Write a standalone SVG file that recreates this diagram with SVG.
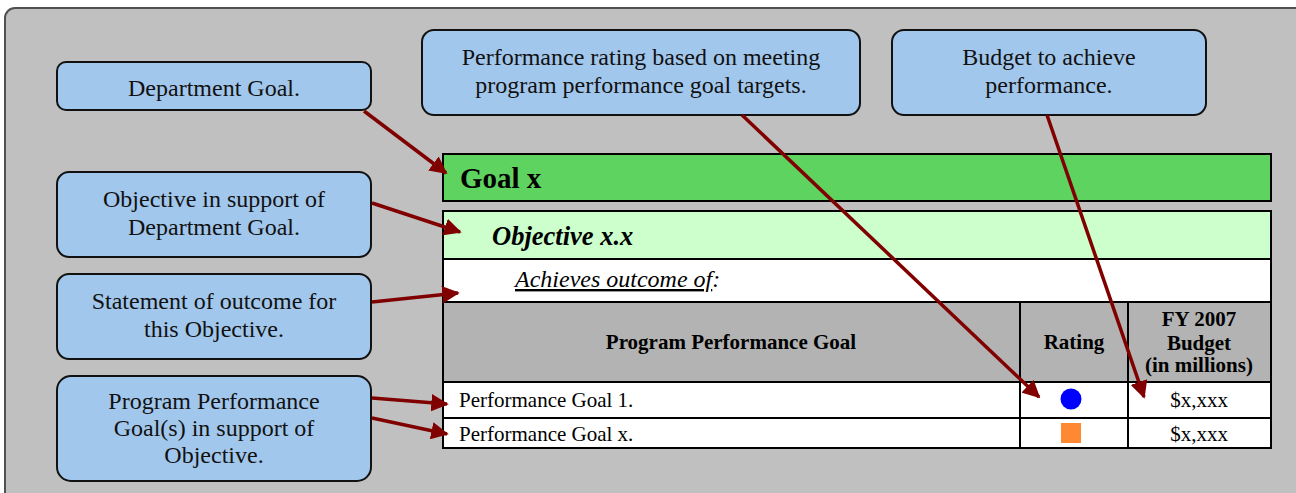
<svg xmlns="http://www.w3.org/2000/svg" width="1296" height="493" viewBox="0 0 1296 493">
<defs>
<marker id="ah" viewBox="0 0 10 10" refX="9" refY="5" markerWidth="5" markerHeight="5" markerUnits="strokeWidth" orient="auto">
<path d="M0,0 L10,5 L0,10 Z" fill="#800000"/>
</marker>
<style>
.call{fill:#a2c7ec;stroke:#111;stroke-width:2}
.ct{font-family:"Liberation Serif",serif;font-size:24px;fill:#111;text-anchor:middle}
.cell{stroke:#000;stroke-width:2}
.hd{font-family:"Liberation Serif",serif;font-size:21px;font-weight:bold;fill:#000;text-anchor:middle}
.rt{font-family:"Liberation Serif",serif;font-size:21px;fill:#000}
.arr{stroke:#800000;stroke-width:3.5;fill:none;marker-end:url(#ah)}
</style>
</defs>
<rect x="5" y="8" width="1320" height="510" rx="10" fill="#c0c0c0" stroke="#505050" stroke-width="2"/>

<g id="table">
<rect class="cell" x="443" y="154" width="828" height="47" fill="#5fd35f"/>
<text x="460" y="188" font-family="Liberation Serif, serif" font-size="29" font-weight="bold">Goal x</text>
<rect class="cell" x="443" y="211" width="828" height="48" fill="#ccffcc"/>
<text x="492" y="245" font-family="Liberation Serif, serif" font-size="26.5" font-weight="bold" font-style="italic">Objective x.x</text>
<rect class="cell" x="443" y="259" width="828" height="43" fill="#ffffff"/>
<text x="515" y="287" font-family="Liberation Serif, serif" font-size="24" font-style="italic"><tspan text-decoration="underline">Achieves outcome of</tspan>:</text>
<rect class="cell" x="443" y="302" width="828" height="80" fill="#b3b3b3"/>
<rect class="cell" x="443" y="382" width="828" height="36" fill="#ffffff"/>
<rect class="cell" x="443" y="418" width="828" height="30" fill="#ffffff"/>
<line class="cell" x1="1020" y1="302" x2="1020" y2="448"/>
<line class="cell" x1="1128" y1="302" x2="1128" y2="448"/>
<text class="hd" x="731" y="349">Program Performance Goal</text>
<text class="hd" x="1074" y="349">Rating</text>
<text class="hd" x="1199" y="326">FY 2007</text>
<text class="hd" x="1199" y="350">Budget</text>
<text class="hd" x="1199" y="372">(in millions)</text>
<text class="rt" x="459" y="407">Performance Goal 1.</text>
<text class="rt" x="459" y="441">Performance Goal x.</text>
<text class="rt" x="1199" y="407" text-anchor="middle">$x,xxx</text>
<text class="rt" x="1199" y="441" text-anchor="middle">$x,xxx</text>
<circle cx="1071" cy="399" r="10.5" fill="#0000ff"/>
<rect x="1061" y="423" width="20" height="20" fill="#ff8833"/>
</g>

<g id="n-dept">
<rect class="call" x="57" y="62" width="314" height="48" rx="9"/>
<text class="ct" x="214" y="96">Department Goal.</text>
</g>
<g id="n-obj">
<rect class="call" x="57" y="172" width="314" height="85" rx="12"/>
<text class="ct" x="214" y="207">Objective in support of</text>
<text class="ct" x="214" y="235">Department Goal.</text>
</g>
<g id="n-stmt">
<rect class="call" x="57" y="274" width="314" height="85" rx="12"/>
<text class="ct" x="214" y="309">Statement of outcome for</text>
<text class="ct" x="214" y="337">this Objective.</text>
</g>
<g id="n-prog">
<rect class="call" x="57" y="376" width="314" height="105" rx="14"/>
<text class="ct" x="214" y="409">Program Performance</text>
<text class="ct" x="214" y="436">Goal(s) in support of</text>
<text class="ct" x="214" y="463">Objective.</text>
</g>
<g id="n-rating">
<rect class="call" x="422" y="30" width="438" height="85" rx="12"/>
<text class="ct" x="641" y="65">Performance rating based on meeting</text>
<text class="ct" x="641" y="93">program performance goal targets.</text>
</g>
<g id="n-budget">
<rect class="call" x="892" y="30" width="314" height="85" rx="12"/>
<text class="ct" x="1049" y="65">Budget to achieve</text>
<text class="ct" x="1049" y="93">performance.</text>
</g>

<g id="connectors">
<line class="arr" x1="364" y1="111" x2="446" y2="173"/>
<line class="arr" x1="372" y1="203" x2="460" y2="232"/>
<line class="arr" x1="372" y1="302" x2="458" y2="293"/>
<line class="arr" x1="372" y1="398" x2="447" y2="404"/>
<line class="arr" x1="372" y1="418" x2="447" y2="434"/>
<line class="arr" x1="742" y1="115" x2="1039" y2="397"/>
<line class="arr" x1="1047" y1="115" x2="1144" y2="397"/>
</g>
</svg>
